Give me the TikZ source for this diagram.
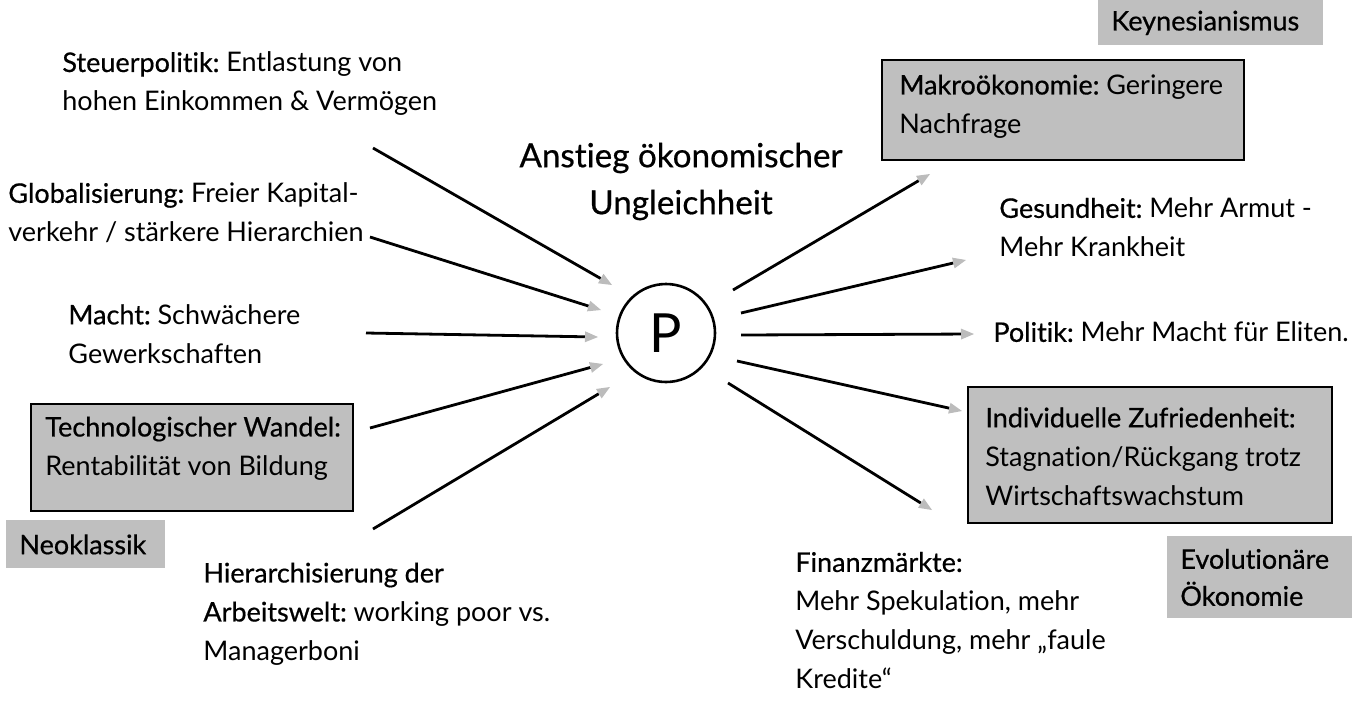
\documentclass[tikz,border=0pt]{standalone}
\usepackage{fontspec}
\setmainfont{Lato}[Ligatures=NoCommon]
\newfontfamily\medfont{Lato}[Ligatures=NoCommon, FakeBold=0.6]
\newcommand{\md}[1]{{\medfont #1}}
\frenchspacing
\usetikzlibrary{arrows.meta}
\definecolor{boxgray}{RGB}{191,191,191}
\definecolor{tipgray}{RGB}{188,188,188}
\tikzset{
  txt/.style={anchor=west, inner sep=0pt, align=left, font=\fontsize{13.5}{19.5}\selectfont},
  tagbox/.style={anchor=north west, fill=boxgray, inner ysep=0pt, inner xsep=6.5pt, align=left,
     font=\fontsize{13.5}{18.5}\selectfont\medfont},
  framebox/.style={anchor=north west, fill=boxgray, draw=black, line width=0.8pt},
  conn/.style={line width=1.4pt, -{Triangle[length=6.5pt,width=5.5pt,color=tipgray,line width=0pt]}},
}
\begin{document}
\begin{tikzpicture}[x=0.5pt,y=-0.5pt]
\useasboundingbox (0,0) rectangle (1361,703);
% centre
\node[circle, draw, line width=1.3pt, minimum size=49pt, inner sep=0pt,
      font=\fontsize{27}{30}\selectfont] (P) at (666,333) {P};
\node[anchor=center, inner sep=0pt, align=center, font=\fontsize{16.6}{23.5}\selectfont\medfont]
   (title) at (681,181.5) {Anstieg ökonomischer\\Ungleichheit};
% left texts
\node[txt] (steuer) at (62,84) {\md{Steuerpolitik:} Entlastung von\\hohen Einkommen \& Vermögen};
\node[txt] (global) at (8,213) {\md{Globalisierung:} Freier Kapital-\\verkehr / stärkere Hierarchien};
\node[txt] (macht) at (68,334) {\md{Macht:} Schwächere\\Gewerkschaften};
\node[framebox, minimum width=161pt, minimum height=53.5pt] (techbox) at (30,403) {};
\node[txt] (tech) at (45,448.5) {\md{Technologischer Wandel:}\\Rentabilität von Bildung};
\node[tagbox, text width=66.5pt, minimum height=24pt] (neo) at (6,520) {Neoklassik};
\node[txt] (hier) at (203,614) {\md{Hierarchisierung der}\\\md{Arbeitswelt:} working poor vs.\\Managerboni};
% right texts
\node[tagbox, text width=99.5pt, minimum height=22.5pt] (keyn) at (1098,0) {Keynesianismus};
\node[framebox, minimum width=181pt, minimum height=50pt] (makrobox) at (881,59) {};
\node[txt] (makro) at (899,106.5) {\md{Makroökonomie:} Geringere\\Nachfrage};
\node[txt] (gesund) at (999,227.5) {\md{Gesundheit:} Mehr Armut -\\Mehr Krankheit};
\node[txt] (politik) at (993,332) {\md{Politik:} Mehr Macht für Eliten.};
\node[framebox, minimum width=182pt, minimum height=68pt] (indivbox) at (967,386) {};
\node[txt] (indiv) at (985,456.5) {\md{Individuelle Zufriedenheit:}\\Stagnation/Rückgang trotz\\Wirtschaftswachstum};
\node[tagbox, text width=79.5pt, minimum height=41pt] (evol) at (1167,536) {Evolutionäre\\Ökonomie};
\node[txt] (finanz) at (795,620.5) {\md{Finanzmärkte:}\\Mehr Spekulation, mehr\\Verschuldung, mehr „faule\\Kredite“};
% connector ends
\coordinate (l1s) at (373,148); \coordinate (l1e) at (612,285);
\coordinate (l2s) at (370,237); \coordinate (l2e) at (601,310);
\coordinate (l3s) at (366,333); \coordinate (l3e) at (598,337);
\coordinate (l4s) at (370,428); \coordinate (l4e) at (603,364);
\coordinate (l5s) at (373,529); \coordinate (l5e) at (610,387);
\coordinate (r1s) at (733,290); \coordinate (r1e) at (930,174);
\coordinate (r2s) at (741,313); \coordinate (r2e) at (966,260);
\coordinate (r3s) at (741,335); \coordinate (r3e) at (974,334);
\coordinate (r4s) at (737,361); \coordinate (r4e) at (962,411);
\coordinate (r5s) at (728,383); \coordinate (r5e) at (932,510);
\foreach \a in {l1,l2,l3,l4,l5,r1,r2,r3,r4,r5}{
  \draw[conn] (\a s) -- (\a e);
}
\end{tikzpicture}
\end{document}
